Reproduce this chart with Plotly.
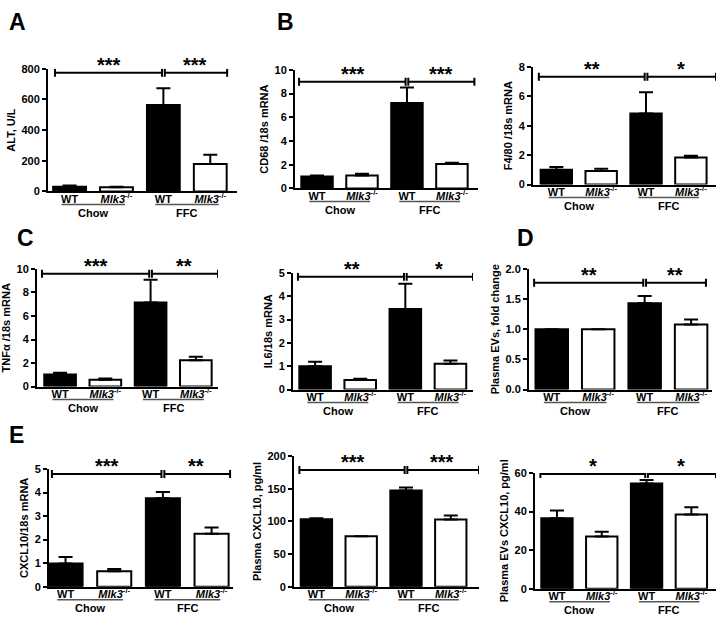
import plotly.graph_objects as go

# ---------------- data ----------------
MLK3 = '<i>Mlk3</i><sup>-/-</sup>'
tick_text = ["WT", MLK3, "WT", MLK3]
group_labels = ["Chow", "FFC"]
bar_colors = ["black", "white", "black", "white"]

alt_mean = [30, 27, 563, 179]
alt_err = [8, 4, 110, 60]
cd68_mean = [1.0, 1.1, 7.2, 2.05]
cd68_err = [0.1, 0.14, 1.3, 0.12]
f480_mean = [1.0, 0.92, 4.82, 1.83]
f480_err = [0.2, 0.16, 1.45, 0.13]
tnfa_mean = [1.02, 0.58, 7.15, 2.25]
tnfa_err = [0.16, 0.1, 1.93, 0.28]
il6_mean = [1.0, 0.41, 3.45, 1.11]
il6_err = [0.19, 0.05, 1.08, 0.13]
evs_mean = [1.0, 1.0, 1.43, 1.08]
evs_err = [0.0, 0.0, 0.12, 0.08]
cxcl10_mrna_mean = [0.99, 0.66, 3.76, 2.25]
cxcl10_mrna_err = [0.27, 0.09, 0.26, 0.27]
cxcl10_plasma_mean = [103.5, 77.5, 147.5, 103]
cxcl10_plasma_err = [1.5, 0, 4.5, 6]
cxcl10_evs_mean = [36.5, 27, 54.5, 38.5]
cxcl10_evs_err = [4, 2.5, 1.8, 3.7]

means = [alt_mean, cd68_mean, f480_mean, tnfa_mean, il6_mean, evs_mean,
         cxcl10_mrna_mean, cxcl10_plasma_mean, cxcl10_evs_mean]
errs = [alt_err, cd68_err, f480_err, tnfa_err, il6_err, evs_err,
        cxcl10_mrna_err, cxcl10_plasma_err, cxcl10_evs_err]

y_titles = ["ALT, U/L", "CD68 /18s mRNA", "F4/80 /18s mRNA", "TNF\u03b1 /18s mRNA",
            "IL6/18s mRNA", "Plasma EVs, fold change", "CXCL10/18s mRNA",
            "Plasma CXCL10, pg/ml", "Plasma EVs CXCL10, pg/ml"]
y_max = [800, 10, 8, 10, 5, 2.0, 5, 200, 60]
y_dtick = [200, 2, 2, 2, 1, 0.5, 1, 50, 20]
sig_level = [774, 9.0, 7.33, 9.58, 4.83, 1.77, 4.79, 179, 59.5]
sig_stars = [["***", "***"], ["***", "***"], ["**", "*"], ["***", "**"], ["**", "*"],
             ["**", "**"], ["***", "**"], ["***", "***"], ["*", "*"]]
panel_letters = ["A", "B", "C", "D", "E"]

# ---------------- layout geometry (pixels) ----------------
W, H = 724, 630
# left, top, right, bottom(zero line)
boxes = [(48, 64, 237, 189), (295, 65, 478, 186), (533, 62, 716, 182),
         (37, 268, 218, 388), (293, 272, 473, 391), (529, 268, 712, 391),
         (49, 472, 233, 592), (294, 459, 479, 592), (535, 476, 716, 594)]
x_ranges = [(-0.46, 3.57), (-0.49, 3.58), (-0.52, 3.56), (-0.51, 3.49), (-0.49, 3.5),
            (-0.49, 3.45), (-0.34, 3.44), (-0.5, 3.63), (-0.49, 3.55)]
sig_ends = [(-0.31, 3.36), (-0.4, 3.5), (-0.39, 3.56), (-0.4, 3.49), (-0.38, 3.5),
            (-0.38, 3.32), (-0.28, 3.38), (-0.38, 3.63), (-0.37, 3.55)]
letter_pos = [(7, 16), (275, 16), (15, 237), (515, 237), (7, 437)]

FONT = "Arial, Liberation Sans, sans-serif"

def bfont(size, color="black"):
    return dict(family=FONT, size=size, color=color, weight="bold")

fig = go.Figure()
shapes = []
annotations = []
layout = dict(width=W, height=H, margin=dict(l=0, r=0, t=0, b=0),
              paper_bgcolor="white", plot_bgcolor="white", showlegend=False)

for i in range(9):
    n = i + 1
    xa = "x" if n == 1 else f"x{n}"
    ya = "y" if n == 1 else f"y{n}"
    l, t, r, b = boxes[i]
    px_h = b - t  # plot height in pixels
    fig.add_trace(go.Bar(
        x=[0, 1, 2, 3], y=means[i], xaxis=xa, yaxis=ya, width=0.7,
        textposition="none", hoverinfo="skip",
        marker=dict(color=bar_colors, line=dict(color="black", width=2)),
        error_y=dict(type="data", symmetric=False, array=errs[i],
                     arrayminus=[0, 0, 0, 0], color="black", thickness=2, width=7),
    ))
    layout["xaxis" if n == 1 else f"xaxis{n}"] = dict(
        domain=[l / W, r / W], anchor=ya, range=list(x_ranges[i]),
        tickvals=[0, 1, 2, 3], ticktext=tick_text, tickfont=bfont(11),
        showline=True, linecolor="black", linewidth=2, ticks="", ticklen=0,
        ticklabelstandoff=-4,
        showgrid=False, zeroline=False, fixedrange=True,
    )
    layout["yaxis" if n == 1 else f"yaxis{n}"] = dict(
        domain=[1 - b / H, 1 - t / H], anchor=xa, range=[0, y_max[i]],
        dtick=y_dtick[i], tick0=0, tickformat=".1f" if i == 5 else "",
        tickfont=bfont(11), ticks="outside", ticklen=4, tickwidth=2,
        tickcolor="black", showline=True, linecolor="black", linewidth=2,
        showgrid=False, zeroline=False,
        title=dict(text=y_titles[i], font=bfont(11), standoff=4),
    )
    # significance brackets
    L, R = sig_ends[i]
    s = sig_level[i]
    for (x0, x1) in [(L, 1.97), (2.03, R)]:
        shapes.append(dict(type="line", xref=xa, yref=ya, x0=x0, x1=x1, y0=s, y1=s,
                           line=dict(color="black", width=2)))
    for xc in [L, 1.97, 2.03, R]:
        shapes.append(dict(type="line", xref=xa, yref=ya, x0=xc, x1=xc,
                           ysizemode="pixel", yanchor=s, y0=-4, y1=4,
                           line=dict(color="black", width=2)))
    star_y = s - 5 * y_max[i] / px_h
    for k, (xa0, xa1) in enumerate([(L, 2.0), (2.0, R)]):
        annotations.append(dict(xref=xa, yref=ya, x=(xa0 + xa1) / 2, y=star_y,
                                text=sig_stars[i][k], showarrow=False,
                                yanchor="bottom", font=bfont(20)))
    # group underlines and labels
    for g in range(2):
        shapes.append(dict(type="line", xref=xa, yref=f"{ya} domain",
                           x0=2 * g - 0.17, x1=2 * g + 1.18,
                           ysizemode="pixel", yanchor=0, y0=-13, y1=-13,
                           line=dict(color="#555555", width=1.5)))
        annotations.append(dict(xref=xa, yref=f"{ya} domain", x=2 * g + 0.5,
                                y=-14 / px_h, yanchor="top", showarrow=False,
                                text=group_labels[g], font=bfont(11)))

for letter, (px, py) in zip(panel_letters, letter_pos):
    annotations.append(dict(xref="paper", yref="paper", x=px / W, y=1 - py / H,
                            xanchor="left", yanchor="middle", showarrow=False,
                            text=letter, font=bfont(23)))

layout["shapes"] = shapes
layout["annotations"] = annotations
fig.update_layout(**layout)
fig.write_html("out.html", config={"displayModeBar": False},
               post_script="document.body.style.margin='0';")
